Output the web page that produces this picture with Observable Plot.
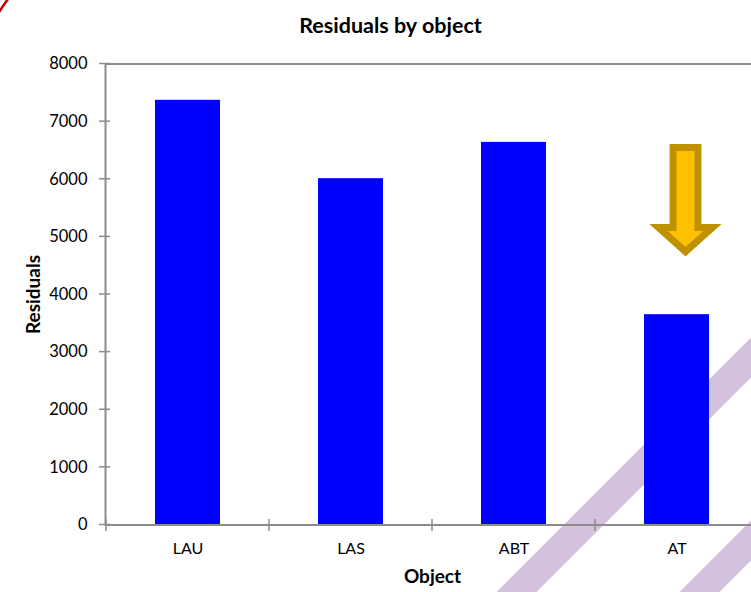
<!DOCTYPE html>
<html><head><meta charset="utf-8">
<script src="https://cdn.jsdelivr.net/npm/d3@7"></script>
<script src="https://cdn.jsdelivr.net/npm/@observablehq/plot@0.6"></script>
<style>html,body{margin:0;padding:0;background:#fff;overflow:hidden}</style>
</head><body><div id="chart"></div>
<script>
const title = "Residuals by object";
const xLabel = "Object";
const yLabel = "Residuals";
const categories = ["LAU", "LAS", "ABT", "AT"];
const residuals = [7370, 6010, 6640, 3650];
const yTicks = [0, 1000, 2000, 3000, 4000, 5000, 6000, 7000, 8000];
const highlighted = "AT";
const arrowValues = [6542, 5154, 4734]; // shaft top, head base, tip (data units)

const data = categories.map((c, i) => ({object: c, residual: residuals[i]}));
const font = "Lato, 'Open Sans', sans-serif";

const plot = Plot.plot({
  width: 751, height: 592,
  marginLeft: 105, marginRight: -8, marginTop: 63.5, marginBottom: 67.5,
  style: {fontFamily: font, fontSize: "16px", color: "#000", background: "#fff"},
  x: {domain: categories, paddingInner: 0.6, paddingOuter: 0.3, label: null},
  y: {domain: [0, 8000], label: null},
  marks: [
    Plot.barY(data, {x: "object", y: "residual", fill: "#0000ff"}),
    Plot.frame({stroke: "#8c8c8c", strokeWidth: 2}),
    Plot.axisY({ticks: yTicks, tickFormat: d3.format("d"), tickSize: 0, tickPadding: 18, fontSize: 16.5, label: null}),
    Plot.axisX({tickSize: 0, tickPadding: 18, fontSize: 16, label: null}),
    Plot.text([title], {frameAnchor: "top", dx: -42, dy: -46.5, fontWeight: "bold", fontSize: 21.5}),
    Plot.text([xLabel], {frameAnchor: "bottom", dy: 57.5, fontWeight: "bold", fontSize: 19}),
    Plot.text([yLabel], {frameAnchor: "left", textAnchor: "middle", rotate: -90, dx: -72, fontWeight: "bold", fontSize: 19})
  ]
});
document.getElementById("chart").appendChild(plot);

const xs = plot.scale("x"), ys = plot.scale("y");
const sel = d3.select(plot);

// decorative diagonal stripes behind everything
const bg = sel.insert("g", ":first-child");
[1108.5, 1291.5].forEach(c => {
  bg.append("line").attr("x1", c - 700).attr("y1", 700).attr("x2", c + 100).attr("y2", -100)
    .attr("stroke", "#d4c1dd").attr("stroke-width", 28.3);
});

// crossing tick marks
const fg = sel.append("g").attr("stroke", "#8c8c8c").attr("stroke-width", 1.5);
const x0 = xs.range[0], y0 = ys.apply(0);
yTicks.forEach(t => {
  const y = ys.apply(t);
  fg.append("line").attr("x1", x0 - 6).attr("x2", x0 + 5).attr("y1", y).attr("y2", y);
});
const off = (xs.step - xs.bandwidth) / 2;
categories.concat([null]).forEach((c) => {
  const x = c ? xs.apply(c) - off : xs.apply(categories[categories.length - 1]) - off + xs.step;
  fg.append("line").attr("x1", x).attr("x2", x).attr("y1", y0 - 5.5).attr("y2", y0 + 6.5);
});

// highlight arrow above the highlighted bar
const cx = xs.apply(highlighted) + xs.bandwidth / 2 + 9;
const [yT, yB, yP] = arrowValues.map(v => ys.apply(v));
const sw = 12.4, hw = 27;
sel.append("path")
  .attr("d", `M${cx - sw},${yT}H${cx + sw}V${yB}H${cx + hw}L${cx},${yP}L${cx - hw},${yB}H${cx - sw}Z`)
  .attr("fill", "#ffc000").attr("stroke", "#bf9000").attr("stroke-width", 7).attr("stroke-linejoin", "miter");

// red annotation arc fragment at top-left
sel.append("path").attr("d", "M-1,12 Q3,6 8,-1").attr("fill", "none").attr("stroke", "#c00000").attr("stroke-width", 2.5);
</script>
</body></html>
